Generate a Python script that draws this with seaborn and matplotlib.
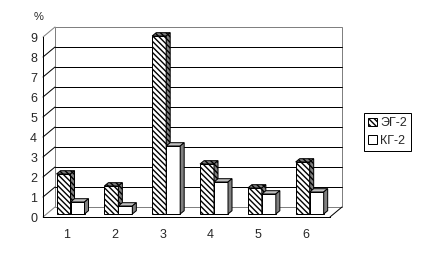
import matplotlib
matplotlib.use("Agg")
import matplotlib.pyplot as plt
import seaborn as sns
import pandas as pd
from matplotlib.patches import Polygon, Rectangle, Patch

# ---- data ----
categories = ["1", "2", "3", "4", "5", "6"]
eg2 = [2.0, 1.4, 8.9, 2.5, 1.3, 2.6]
kg2 = [0.6, 0.4, 3.4, 1.6, 1.0, 1.1]
series = ["ЭГ-2", "КГ-2"]
y_ticks = [0, 1, 2, 3, 4, 5, 6, 7, 8, 9]
unit_label = "%"

sns.set_style("white")
plt.rcParams['font.family'] = ['Liberation Sans', 'DejaVu Sans']
plt.rcParams['hatch.linewidth'] = 1.0

W, H = 429, 270
fig = plt.figure(figsize=(W / 100, H / 100), dpi=100)
ax = fig.add_axes([43 / W, (H - 217) / H, 287 / W, 180 / H])

df = pd.DataFrame({
    "cat": categories * 2,
    "val": eg2 + kg2,
    "series": [series[0]] * len(categories) + [series[1]] * len(categories),
})
sns.barplot(data=df, x="cat", y="val", hue="series", hue_order=series,
            order=categories, width=0.585, palette=["white", "white"],
            saturation=1, edgecolor="black", linewidth=0.72,
            legend=False, ax=ax, errorbar=None)

ax.set_xlim(-0.5, len(categories) - 0.5)
ax.set_ylim(0, 9)
ax.set_facecolor("none")

# pixel -> data conversion
pxx = 287 / len(categories)
pxy = 180 / 9
Dx, Dy = 12 / pxx, 10 / pxy          # full depth
fx, fy = 3.6 / pxx, 3 / pxy          # bar front plane offset
bx, by = 4 / pxx, 3.3 / pxy          # bar depth

GREY = "#808080"
n = len(categories)
# back wall
ax.add_patch(Rectangle((-0.5 + Dx, Dy), n, 9, fc="white", ec=GREY, lw=0.72,
                       clip_on=False, zorder=1))
for k in y_ticks[1:-1]:
    ax.plot([-0.5 + Dx, n - 0.5 + Dx], [k + Dy, k + Dy], color="black",
            lw=0.72, clip_on=False, zorder=2)
# left wall
for k in y_ticks:
    c = "black" if 0 < k < 9 else GREY
    ax.plot([-0.5, -0.5 + Dx], [k, k + Dy], color=c, lw=0.72,
            clip_on=False, zorder=2)
# floor right edge
ax.plot([n - 0.5, n - 0.5 + Dx], [0, Dy], color="black", lw=0.72,
        clip_on=False, zorder=2)

hatch = "\\" * 6
for j, cont in enumerate(ax.containers):
    for i, p in enumerate(cont.patches):
        x0 = p.get_x() + fx
        y0 = fy
        w = p.get_width()
        h = p.get_height()
        p.set_x(x0)
        p.set_y(y0)
        z = 10 + i * 4 + j * 2
        p.set_zorder(z)
        p.set_clip_on(False)
        top = [(x0, y0 + h), (x0 + w, y0 + h), (x0 + w + bx, y0 + h + by),
               (x0 + bx, y0 + h + by)]
        side = [(x0 + w, y0), (x0 + w + bx, y0 + by),
                (x0 + w + bx, y0 + h + by), (x0 + w, y0 + h)]
        if j == 0:
            p.set_hatch(hatch)
            ax.add_patch(Polygon(top, closed=True, fc=GREY, ec="black",
                                 lw=0.72, hatch=hatch, zorder=z + 0.5,
                                 clip_on=False))
            ax.add_patch(Polygon(side, closed=True, fc=GREY, ec="black",
                                 lw=0.72, hatch=hatch, zorder=z + 0.5,
                                 clip_on=False))
        else:
            ax.add_patch(Polygon(top, closed=True, fc="#c0c0c0", ec="black",
                                 lw=0.72, zorder=z + 0.5, clip_on=False))
            ax.add_patch(Polygon(side, closed=True, fc=GREY, ec="black",
                                 lw=0.72, zorder=z + 0.5, clip_on=False))

# axes / ticks
for s in ["top", "right"]:
    ax.spines[s].set_visible(False)
for s in ["left", "bottom"]:
    ax.spines[s].set_color("black")
    ax.spines[s].set_linewidth(0.72)
ax.set_yticks(y_ticks)
ax.set_yticklabels([str(t) for t in y_ticks], fontsize=9)
ax.tick_params(axis="y", length=2.2, width=0.72, direction="out", pad=2,
               color="black")
ax.set_xticks(range(n))
ax.set_xticklabels(categories, fontsize=9)
ax.set_xticks([k - 0.5 for k in range(n + 1)], minor=True)
ax.tick_params(axis="x", which="major", length=0, pad=9)
ax.tick_params(axis="x", which="minor", length=2.5, width=0.72,
               direction="out", color="black")
ax.set_xlabel("")
ax.set_ylabel("")

fig.text(39 / W, 1 - 17 / H, unit_label, ha="center", va="center", fontsize=8)

handles = [Patch(fc="white", ec="black", hatch=hatch, lw=0.72),
           Patch(fc="white", ec="black", lw=0.72)]
leg = fig.legend(handles, series, loc="upper left",
                 bbox_to_anchor=(364 / W, 1 - 113 / H),
                 bbox_transform=fig.transFigure, fontsize=9,
                 frameon=True, fancybox=False, framealpha=1,
                 edgecolor="black", handlelength=0.7, handleheight=0.7,
                 handletextpad=0.25, borderpad=0.35, labelspacing=0.45,
                 borderaxespad=0)
leg.get_frame().set_linewidth(0.72)

fig.savefig("out.png", dpi=100)
